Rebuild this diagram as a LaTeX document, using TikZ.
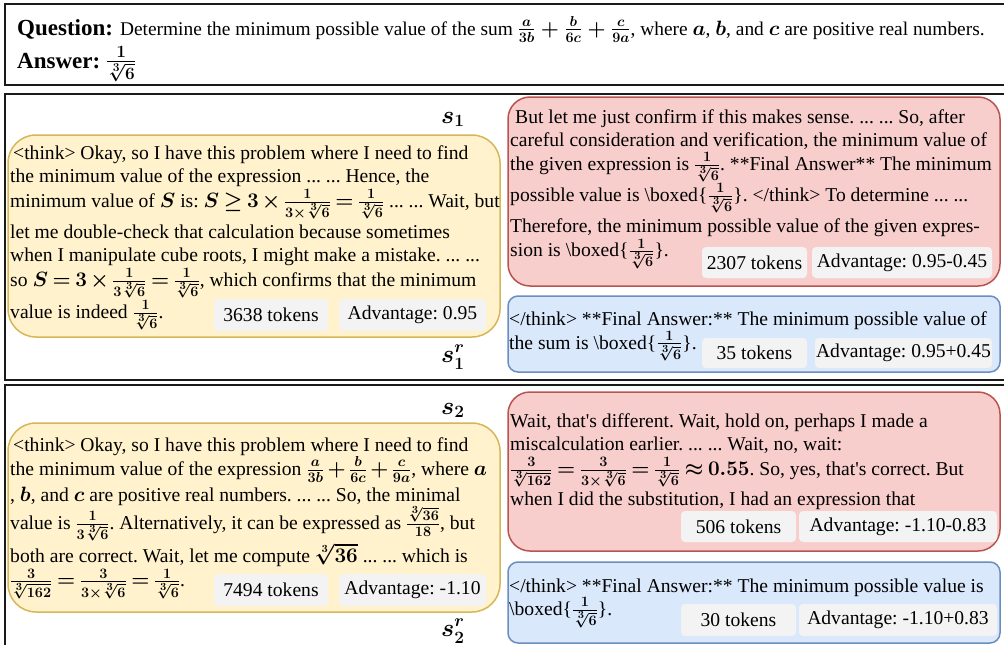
\documentclass[tikz,border=0pt]{standalone}
\usepackage{amsmath}
\usepackage{fontspec}
\setmainfont{Liberation Serif}
\frenchspacing
\DeclareMathSizes{19.6}{19.6}{15}{11}
\definecolor{yfill}{HTML}{FFF2CC}\definecolor{ydraw}{HTML}{D6B656}
\definecolor{rfill}{HTML}{F8CECC}\definecolor{rdraw}{HTML}{B85450}
\definecolor{bfill}{HTML}{DAE8FC}\definecolor{bdraw}{HTML}{6C8EBF}
\definecolor{badgec}{HTML}{F3F3F3}\definecolor{framec}{HTML}{1A1A1A}
\newcommand{\invsix}{\frac{1}{\sqrt[3]{6}}}
\newcommand{\bxd}{\textbackslash boxed\{$\invsix$\}}
\newcommand{\bodyfont}{\fontsize{19.6}{23.4}\selectfont\lineskiplimit=-1000pt\relax\frenchspacing\boldmath\thickmuskip=3.5mu plus 2mu\medmuskip=2.5mu plus 1mu}
\begin{document}
\begin{tikzpicture}[x=1pt,y=-1pt,
  frame/.style={draw=framec,line width=2pt},
  ybox/.style={draw=ydraw,fill=yfill,line width=1.5pt,rounded corners=28pt},
  rbox/.style={draw=rdraw,fill=rfill,line width=1.5pt,rounded corners=22pt},
  bbox/.style={draw=bdraw,fill=bfill,line width=1.5pt,rounded corners=10pt},
  body/.style={font=\bodyfont,inner sep=0pt,anchor=base west,align=flush left,text width=540pt},
  badge/.style={fill=badgec,rounded corners=4pt,inner sep=0pt,font=\fontsize{19.6}{23.4}\selectfont},
  lab/.style={font=\fontsize{24}{26}\selectfont\boldmath,inner sep=0pt,anchor=base west},
  qtext/.style={font=\fontsize{19.4}{23}\selectfont\frenchspacing\boldmath,inner sep=0pt,anchor=base west}]
\useasboundingbox (0,0) rectangle (1004,645);
% frames
\draw[frame] (5,4) rectangle (1012,85);
\draw[frame] (5,94) rectangle (1012,380);
\draw[frame] (5,385) rectangle (1012,660);
% question
\node[qtext] (q) at (17,35) {{\fontsize{23}{26}\selectfont\bfseries Question:}\hspace{7pt}Determine the minimum possible value of the sum $\frac{a}{3b}+\frac{b}{6c}+\frac{c}{9a}$, where $a$, $b$, and $c$ are positive real numbers.};
\node[qtext] (ans) at (17,68) {{\fontsize{23}{26}\selectfont\bfseries Answer:}\hspace{6pt}{\fontsize{23}{26}\selectfont$\invsix$}};
% section 1
\draw[ybox] (8,135) rectangle (500,337);
\draw[rbox] (508,97) rectangle (1000,286);
\draw[bbox] (508,296) rectangle (1000,372);
\node[lab] (s1) at (441,123) {$s_1$};
\node[lab] (s1r) at (441,362) {$s_1^r$};
\node[body] (y1) at (10,159.3) {\hspace{3pt}<think> Okay, so I have this problem where I need to find\\
the minimum value of the expression ... ... Hence, the\\[1pt]
minimum value of $S$ is: $S\geq 3\times\frac{1}{3\times\sqrt[3]{6}}=\invsix$ ... ... Wait, but\\[8pt]
let me double-check that calculation because sometimes\\
when I manipulate cube roots, I might make a mistake. ... ...\\[1pt]
so $S=3\times\frac{1}{3\sqrt[3]{6}}=\invsix$, which confirms that the minimum\\[8.5pt]
value is indeed $\invsix$.};
\node[badge,minimum width=114pt,minimum height=32pt] (y1t) at (271,315) {3638 tokens};
\node[badge,minimum width=147pt,minimum height=32pt] (y1a) at (412.5,315) {Advantage: 0.95};
\node[body] (r1) at (510,123.3) {\hspace{5pt}But let me just confirm if this makes sense. ... ... So, after\\
careful consideration and verification, the minimum value of\\
the given expression is $\invsix$. **Final Answer** The minimum\\[7.6pt]
possible value is \bxd. </think> To determine ... ...\\[8.3pt]
Therefore, the minimum possible value of the given expres-\\[0.6pt]
sion is \bxd.};
\node[badge,minimum width=105pt,minimum height=31pt] (r1t) at (754.5,262.5) {2307 tokens};
\node[badge,minimum width=180pt,minimum height=31pt] (r1a) at (902,262.5) {Advantage: 0.95-0.45};
\node[body] (b1) at (509,325) {</think> **Final Answer:** The minimum possible value of\\[0.6pt]
the sum is \bxd.};
\node[badge,minimum width=105pt,minimum height=30pt] (b1t) at (754.5,353) {35 tokens};
\node[badge,minimum width=177pt,minimum height=30pt] (b1a) at (903.5,353) {Advantage: 0.95+0.45};
% section 2
\draw[ybox] (8,423) rectangle (500,612);
\draw[rbox] (508,392) rectangle (1000,551);
\draw[bbox] (508,562) rectangle (1000,643);
\node[lab] (s2) at (441,414) {$s_2$};
\node[lab] (s2r) at (441,636) {$s_2^r$};
\node[body] (y2) at (10,451.7) {\hspace{3pt}<think> Okay, so I have this problem where I need to find\\
the minimum value of the expression $\frac{a}{3b}+\frac{b}{6c}+\frac{c}{9a}$, where $a$\\[2.6pt]
, $b$, and $c$ are positive real numbers. ... ... So, the minimal\\[4.6pt]
value is $\frac{1}{3\sqrt[3]{6}}$. Alternatively, it can be expressed as $\frac{\sqrt[3]{36}}{18}$, but\\[10pt]
both are correct. Wait, let me compute $\sqrt[3]{36}$ ... ... which is\\[1pt]
$\frac{3}{\sqrt[3]{162}}=\frac{3}{3\times\sqrt[3]{6}}=\invsix$.};
\node[badge,minimum width=114pt,minimum height=32pt] (y2t) at (271,590) {7494 tokens};
\node[badge,minimum width=147pt,minimum height=32pt] (y2a) at (412.5,590) {Advantage: -1.10};
\node[body] (r2) at (510,427.7) {Wait, that\textquotesingle s different. Wait, hold on, perhaps I made a\\[-1pt]
miscalculation earlier. ... ... Wait, no, wait:\\[1.6pt]
$\frac{3}{\sqrt[3]{162}}=\frac{3}{3\times\sqrt[3]{6}}=\invsix\approx 0.55$. So, yes, that\textquotesingle s correct. But\\[6.6pt]
when I did the substitution, I had an expression that};
\node[badge,minimum width=115pt,minimum height=31pt] (r2t) at (738.5,526.5) {506 tokens};
\node[badge,minimum width=198pt,minimum height=31pt] (r2a) at (898,526.5) {Advantage: -1.10-0.83};
\node[body] (b2) at (509,592.3) {</think> **Final Answer:** The minimum possible value is\\
\bxd.};
\node[badge,minimum width=115pt,minimum height=32pt] (b2t) at (738.5,620) {30 tokens};
\node[badge,minimum width=198pt,minimum height=32pt] (b2a) at (898,620) {Advantage: -1.10+0.83};
\end{tikzpicture}
\end{document}
